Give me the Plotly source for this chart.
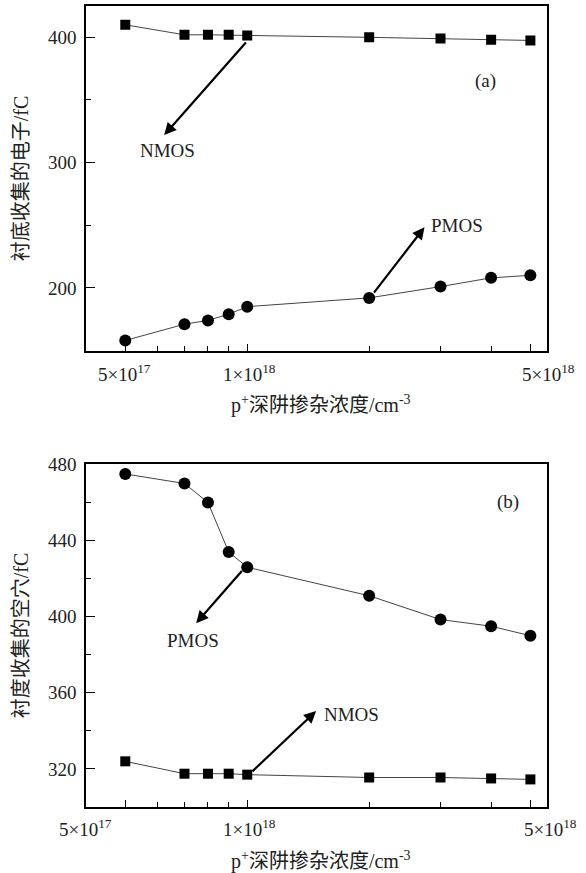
import numpy as np
import plotly.graph_objects as go

# ---------------- data ----------------
conc = [5e17, 7e17, 8e17, 9e17, 1e18, 2e18, 3e18, 4e18, 5e18]
nmos_a = [410, 402, 402, 402, 401.5, 400, 399, 398, 397.5]
pmos_a = [158, 171, 174, 179, 185, 192, 201, 208, 210]
pmos_b = [475, 470, 460, 434, 426, 411, 398.5, 395, 390]
nmos_b = [324, 317.5, 317.5, 317.5, 317, 315.5, 315.5, 315, 314.5]

x_major = [5e17, 1e18, 5e18]
x_minor = [6e17, 7e17, 8e17, 9e17, 2e18, 3e18, 4e18]
x_ticktext = ["5×10<sup>17</sup>", "1×10<sup>18</sup>", "5×10<sup>18</sup>"]
ya_major = [200, 300, 400]
ya_minor = [250, 350]
yb_major = [320, 360, 400, 440, 480]
yb_minor = [340, 380, 420, 460]

ytitle_a = "衬底收集的电子/fC"
ytitle_b = "衬度收集的空穴/fC"
xtitle = "p<sup>+</sup>深阱掺杂浓度/cm<sup>-3</sup>"

FONT = "Liberation Serif, Noto Sans CJK SC, serif"
W, H = 586, 873
ML, MR, MT, MB = 86, 39, 6, 66
PW = W - ML - MR
XR = [17.602, 18.740]

def px2paper(px):
    return (px - ML) / PW

fig = go.Figure()

def add_series(x, y, symbol, size, xa, ya):
    fig.add_trace(go.Scatter(
        x=x, y=y, mode="lines+markers", xaxis=xa, yaxis=ya,
        line=dict(color="#444444", width=1),
        marker=dict(symbol=symbol, size=size, color="black",
                    line=dict(width=0)),
        showlegend=False, hoverinfo="skip"))

add_series(conc, nmos_a, "square", 10, "x", "y")
add_series(conc, pmos_a, "circle", 12, "x", "y")
add_series(conc, pmos_b, "circle", 12, "x2", "y2")
add_series(conc, nmos_b, "square", 10, "x2", "y2")

def xaxis(anchor):
    return dict(
        type="log", range=XR, anchor=anchor, automargin=False,
        showline=True, linecolor="black", linewidth=1.5, mirror=True,
        showgrid=False, zeroline=False,
        tickmode="array", tickvals=x_major, ticks="inside", ticklen=7,
        tickwidth=1.3, tickcolor="black", showticklabels=False,
        minor=dict(tickmode="array", tickvals=x_minor, ticks="inside",
                   ticklen=5, tickwidth=1.3, tickcolor="black", showgrid=False),
    )

def yaxis(domain, rng, major, minor, anchor):
    return dict(
        domain=domain, range=rng, anchor=anchor, automargin=False,
        showline=True, linecolor="black", linewidth=1.5, mirror=True,
        showgrid=False, zeroline=False,
        tickmode="array", tickvals=major, ticks="inside", ticklen=9,
        tickwidth=1.3, tickcolor="black",
        tickfont=dict(family=FONT, size=19, color="#222"),
        ticklabelstandoff=4,
        minor=dict(tickmode="array", tickvals=minor, ticks="inside",
                   ticklen=5, tickwidth=1.3, tickcolor="black", showgrid=False),
    )

plot_h = H - MT - MB
dom_a = [(plot_h - 344.5) / plot_h, 1.0]
dom_b = [0.0, 343.5 / plot_h]

fig.update_layout(
    template="none",
    width=W, height=H,
    margin=dict(l=ML, r=MR, t=MT, b=MB, autoexpand=False),
    paper_bgcolor="white", plot_bgcolor="white",
    font=dict(family=FONT, size=19, color="#222"),
    xaxis=xaxis("y"),
    yaxis=yaxis(dom_a, [150, 425], ya_major, ya_minor, "x"),
    xaxis2=xaxis("y2"),
    yaxis2=yaxis(dom_b, [300, 480.5], yb_major, yb_minor, "x2"),
)

ann = []
tf = dict(family=FONT, size=19, color="#222")

# x tick labels (placed as in the original figure, pixel centres)
for pos, txt in zip([124, 249, 548], x_ticktext):
    ann.append(dict(x=px2paper(pos), xref="paper", y=0, yref="y domain", yshift=-22,
                    text=txt, showarrow=False, font=tf,
                    xanchor="center", yanchor="middle"))
for pos, txt in zip([85, 249, 550], x_ticktext):
    ann.append(dict(x=px2paper(pos), xref="paper", y=0, yref="y2 domain", yshift=-21,
                    text=txt, showarrow=False, font=tf,
                    xanchor="center", yanchor="middle"))

# axis titles
xt_font = dict(family=FONT, size=20, color="#222")
ann.append(dict(x=px2paper(321), xref="paper", y=0, yref="y domain",
                yshift=-54, text=xtitle, showarrow=False, font=xt_font,
                xanchor="center", yanchor="middle"))
ann.append(dict(x=px2paper(321), xref="paper", y=0, yref="y2 domain",
                yshift=-53, text=xtitle, showarrow=False, font=xt_font,
                xanchor="center", yanchor="middle"))
ann.append(dict(x=px2paper(21), xref="paper", y=0.5, yref="y domain",
                text=ytitle_a, textangle=-90, showarrow=False, font=xt_font,
                xanchor="center", yanchor="middle"))
ann.append(dict(x=px2paper(21), xref="paper", y=0.5, yref="y2 domain",
                text=ytitle_b, textangle=-90, showarrow=False, font=xt_font,
                xanchor="center", yanchor="middle"))

# arrows (x in log10 units for log axes)
def arrow(xa, ya, tail, head):
    ann.append(dict(x=head[0], y=head[1], xref=xa, yref=ya,
                    ax=tail[0], ay=tail[1], axref=xa, ayref=ya,
                    text="", showarrow=True, arrowhead=2, arrowsize=1.1,
                    arrowwidth=2.2, arrowcolor="black"))

arrow("x", "y", (18.0, 397), (17.795, 322))
arrow("x", "y", (18.31, 195), (18.4376, 248.4))
arrow("x2", "y2", (17.990, 424.8), (17.874, 396.6))
arrow("x2", "y2", (18.009, 318), (18.170, 350.4))

# labels
ann.append(dict(x=17.8027, y=309.4, xref="x", yref="y", text="NMOS",
                showarrow=False, font=tf, xanchor="center", yanchor="middle"))
ann.append(dict(x=18.4496, y=250, xref="x", yref="y", text="PMOS",
                showarrow=False, font=tf, xanchor="left", yanchor="middle"))
ann.append(dict(x=18.587, y=365.5, xref="x", yref="y", text="(a)",
                showarrow=False, font=tf, xanchor="center", yanchor="middle"))
ann.append(dict(x=17.866, y=387.7, xref="x2", yref="y2", text="PMOS",
                showarrow=False, font=tf, xanchor="center", yanchor="middle"))
ann.append(dict(x=18.185, y=348.6, xref="x2", yref="y2", text="NMOS",
                showarrow=False, font=tf, xanchor="left", yanchor="middle"))
ann.append(dict(x=18.643, y=460.2, xref="x2", yref="y2", text="(b)",
                showarrow=False, font=tf, xanchor="center", yanchor="middle"))

fig.update_layout(annotations=ann)
fig.write_html(
    "out.html",
    config={"displayModeBar": False},
    post_script="document.body.style.margin='0';document.body.style.overflow='hidden';",
)
